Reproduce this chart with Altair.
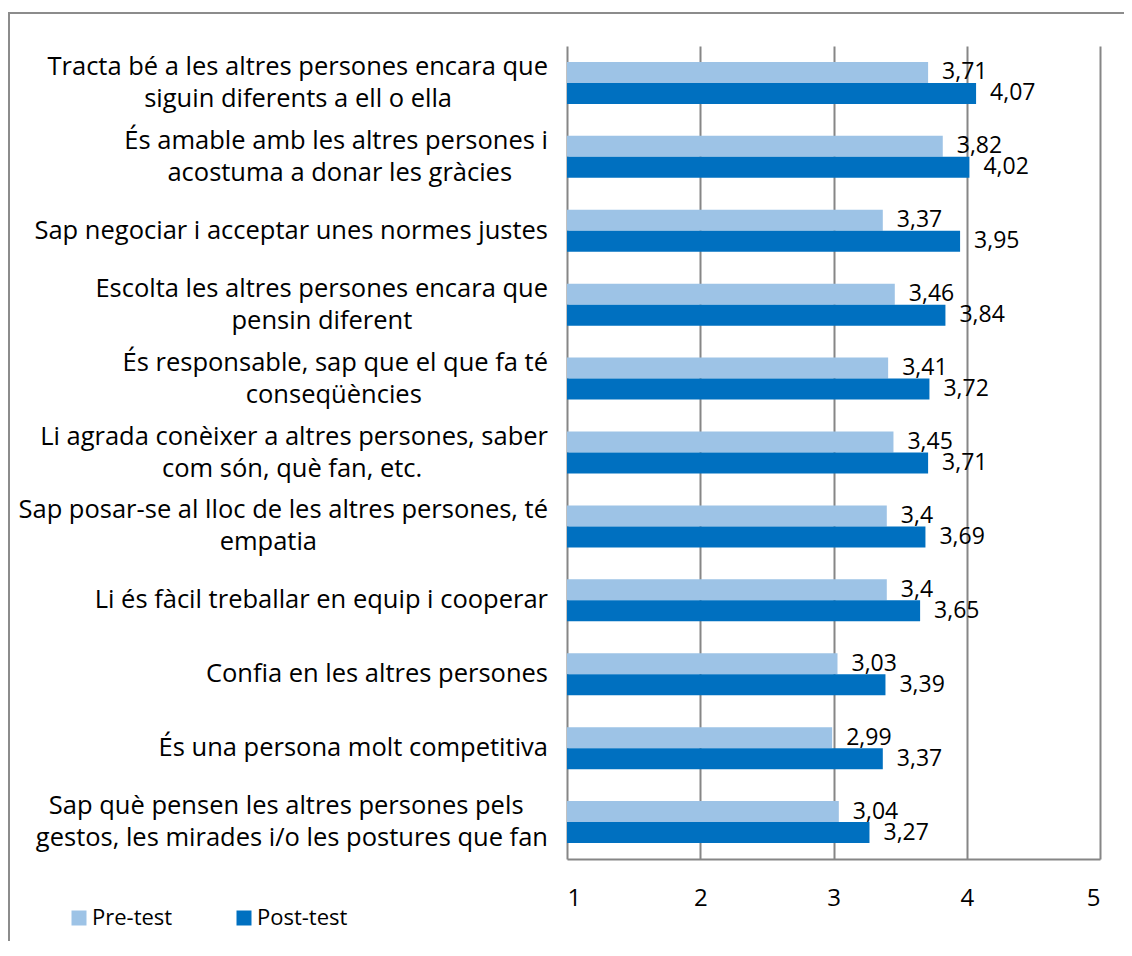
import altair as alt
import pandas as pd

categories = [
    "Tracta bé a les altres persones encara que\nsiguin diferents a ell o ella",
    "És amable amb les altres persones i\nacostuma a donar les gràcies",
    "Sap negociar i acceptar unes normes justes",
    "Escolta les altres persones encara que\npensin diferent",
    "És responsable, sap que el que fa té\nconseqüències",
    "Li agrada conèixer a altres persones, saber\ncom són, què fan, etc.",
    "Sap posar-se al lloc de les altres persones, té\nempatia",
    "Li és fàcil treballar en equip i cooperar",
    "Confia en les altres persones",
    "És una persona molt competitiva",
    "Sap què pensen les altres persones pels\ngestos, les mirades i/o les postures que fan",
]
pre_test = [3.71, 3.82, 3.37, 3.46, 3.41, 3.45, 3.4, 3.4, 3.03, 2.99, 3.04]
post_test = [4.07, 4.02, 3.95, 3.84, 3.72, 3.71, 3.69, 3.65, 3.39, 3.37, 3.27]
series = ["Pre-test", "Post-test"]
x_ticks = [1, 2, 3, 4, 5]
colors = ["#9DC3E6", "#0070C0"]

FONT = "Open Sans"
LABEL_SIZE = 25.5
NUM_SIZE = 23
TICK_SIZE = 24
LEG_SIZE = 22
CHAR_W = 11.9      # approx. average glyph width used to centre the shorter label line
LINE_GAP = 16
LABEL_RIGHT = -19
W, H = 533, 813

rows = []
for c, a, b in zip(categories, pre_test, post_test):
    for s, v in zip(series, [a, b]):
        rows.append({"cat": c, "series": s, "value": v,
                     "label": f"{v:g}".replace(".", ",")})
bars_df = pd.DataFrame(rows)

lab_rows = []
for c in categories:
    lines = c.split("\n")
    if len(lines) == 1:
        lab_rows.append({"cat": c, "text": lines[0], "px": LABEL_RIGHT, "al": "right", "dy": 0})
    else:
        wide = max(range(len(lines)), key=lambda k: len(lines[k]))
        for k, t in enumerate(lines):
            dy = -LINE_GAP if k == 0 else LINE_GAP
            if k == wide:
                lab_rows.append({"cat": c, "text": t, "px": LABEL_RIGHT, "al": "right", "dy": dy})
            else:
                lab_rows.append({"cat": c, "text": t,
                                 "px": LABEL_RIGHT - len(lines[wide]) * CHAR_W / 2,
                                 "al": "center", "dy": dy})
lab_df = pd.DataFrame(lab_rows)

y_enc = alt.Y("cat:N", sort=categories, axis=None,
              scale=alt.Scale(paddingInner=0.432, paddingOuter=0.216))
yoff = alt.YOffset("series:N", sort=series,
                   scale=alt.Scale(paddingInner=0, paddingOuter=0))
xscale = alt.Scale(domain=[1, 5], zero=False, nice=False)

base = alt.Chart(bars_df)
bars = base.mark_bar().encode(
    x=alt.X("value:Q", scale=xscale,
            axis=alt.Axis(values=x_ticks, format="d", grid=True, gridColor="#868686",
                          gridWidth=2, domainColor="#868686", domainWidth=2, ticks=False,
                          labelFont=FONT, labelFontSize=TICK_SIZE, labelColor="black",
                          labelPadding=27, title=None)),
    x2=alt.datum(1),
    y=y_enc,
    yOffset=yoff,
    color=alt.Color("series:N", sort=series,
                    scale=alt.Scale(domain=series, range=colors),
                    legend=alt.Legend(orient="none", legendX=-499, legendY=861,
                                      direction="horizontal", title=None,
                                      symbolType="square", symbolSize=225,
                                      symbolStrokeWidth=0, labelFont=FONT,
                                      labelFontSize=LEG_SIZE, labelColor="black",
                                      columnPadding=60, labelOffset=2, padding=0)),
)
vals = base.mark_text(align="left", baseline="middle", dx=14, font=FONT,
                      fontSize=NUM_SIZE, color="black").encode(
    x=alt.X("value:Q", scale=xscale),
    y=y_enc,
    yOffset=yoff,
    text="label:N",
)
main = alt.layer(bars, vals)

lab_layers = []
for al in ["right", "center"]:
    for dy in [-LINE_GAP, 0, LINE_GAP]:
        sub = lab_df[(lab_df.al == al) & (lab_df.dy == dy)]
        if len(sub) == 0:
            continue
        lab_layers.append(
            alt.Chart(sub).mark_text(align=al, baseline="middle", dy=dy, font=FONT,
                                     fontSize=LABEL_SIZE, color="black").encode(
                x=alt.X("px:Q", scale=alt.Scale(domain=[0, W], zero=False, nice=False),
                        axis=None),
                y=y_enc,
                text="text:N",
            )
        )
labels = alt.layer(*lab_layers)

border = alt.Chart(pd.DataFrame({"a": [0]})).mark_rect(
    filled=False, stroke="#8c8c8c", strokeWidth=2).encode(
    x=alt.value(-558), x2=alt.value(900), y=alt.value(-33), y2=alt.value(1000))

chart = alt.layer(border, main, labels).resolve_scale(x="independent").properties(
    width=W, height=H,
    autosize=alt.AutoSizeParams(type="none"),
    padding={"left": 559, "top": 38, "right": 24, "bottom": 82},
    background="white",
).configure_view(stroke=None)

chart.save("out.html", embed_options={"renderer": "svg", "actions": False})
